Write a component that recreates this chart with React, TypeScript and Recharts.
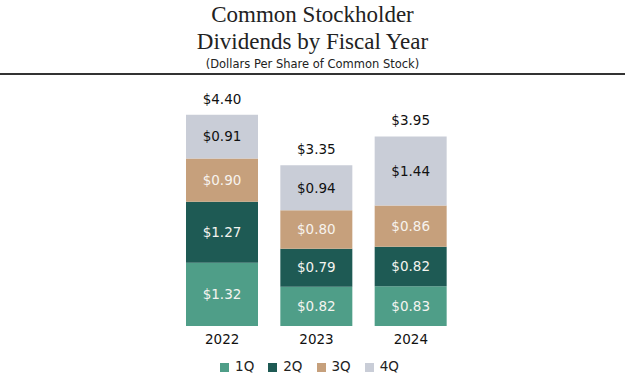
import { BarChart, Bar, XAxis, YAxis, Legend, LabelList } from 'recharts'

const years = ['2022', '2023', '2024']
const q1 = [1.32, 0.82, 0.83]
const q2 = [1.27, 0.79, 0.82]
const q3 = [0.9, 0.8, 0.86]
const q4 = [0.91, 0.94, 1.44]
const totals = [4.4, 3.35, 3.95]

const SERIES = [
  { key: 'q1', name: '1Q', color: '#4f9e88', text: '#f4f4f0' },
  { key: 'q2', name: '2Q', color: '#1e5a54', text: '#f4f4f0' },
  { key: 'q3', name: '3Q', color: '#c6a07c', text: '#f7f3ee' },
  { key: 'q4', name: '4Q', color: '#c9cdd7', text: '#111111' },
]

const data = years.map((year, i) => ({
  year,
  q1: q1[i],
  q2: q2[i],
  q3: q3[i],
  q4: q4[i],
  total: totals[i],
}))

const money = (v: any) => `$${Number(v).toFixed(2)}`
const labelFont = "'DejaVu Sans', sans-serif"

export default function App() {
  return (
    <div style={{ position: 'absolute', left: 0, top: 0, width: 625, height: 375, background: '#fff' }}>
      <div
        style={{
          position: 'absolute',
          top: 0,
          left: 0,
          width: 625,
          textAlign: 'center',
          fontFamily: "'Liberation Serif', serif",
          fontSize: 23,
          lineHeight: '27px',
          color: '#222',
          paddingTop: 1,
        }}
      >
        <div>Common Stockholder</div>
        <div>Dividends by Fiscal Year</div>
      </div>
      <div
        style={{
          position: 'absolute',
          top: 57,
          left: 0,
          width: 625,
          textAlign: 'center',
          fontFamily: labelFont,
          fontSize: 11.5,
          color: '#222',
        }}
      >
        (Dollars Per Share of Common Stock)
      </div>
      <div style={{ position: 'absolute', top: 73, left: 0, width: 625, height: 2, background: '#333' }} />
      <div style={{ position: 'absolute', top: 0, left: 0 }}>
        <BarChart
          width={625}
          height={375}
          data={data}
          margin={{ top: 86, right: 167, left: 175, bottom: 0 }}
        >
          <XAxis
            dataKey="year"
            axisLine={false}
            tickLine={false}
            height={29}
            tick={{ fontSize: 13.5, fill: '#111', fontFamily: labelFont }}
          />
          <YAxis hide domain={[0, 5]} />
          <Legend
            verticalAlign="bottom"
            iconType="square"
            iconSize={9}
            height={20}
            wrapperStyle={{ bottom: -2 }}
            formatter={(value: string) => (
              <span style={{ color: '#222', fontSize: 13.5, fontFamily: labelFont, marginLeft: 2, marginRight: 4 }}>
                {value}
              </span>
            )}
          />
          {SERIES.map((s) => (
            <Bar
              key={s.key}
              dataKey={s.key}
              name={s.name}
              stackId="a"
              fill={s.color}
              barSize={72}
              isAnimationActive={false}
            >
              <LabelList
                dataKey={s.key}
                position="center"
                formatter={money}
                fill={s.text}
                style={{ fontSize: 13.5, fontFamily: labelFont }}
              />
              {s.key === 'q4' && (
                <LabelList
                  dataKey="total"
                  position="top"
                  offset={11}
                  formatter={money}
                  fill="#111"
                  style={{ fontSize: 13.5, fontFamily: labelFont }}
                />
              )}
            </Bar>
          ))}
        </BarChart>
      </div>
    </div>
  )
}
